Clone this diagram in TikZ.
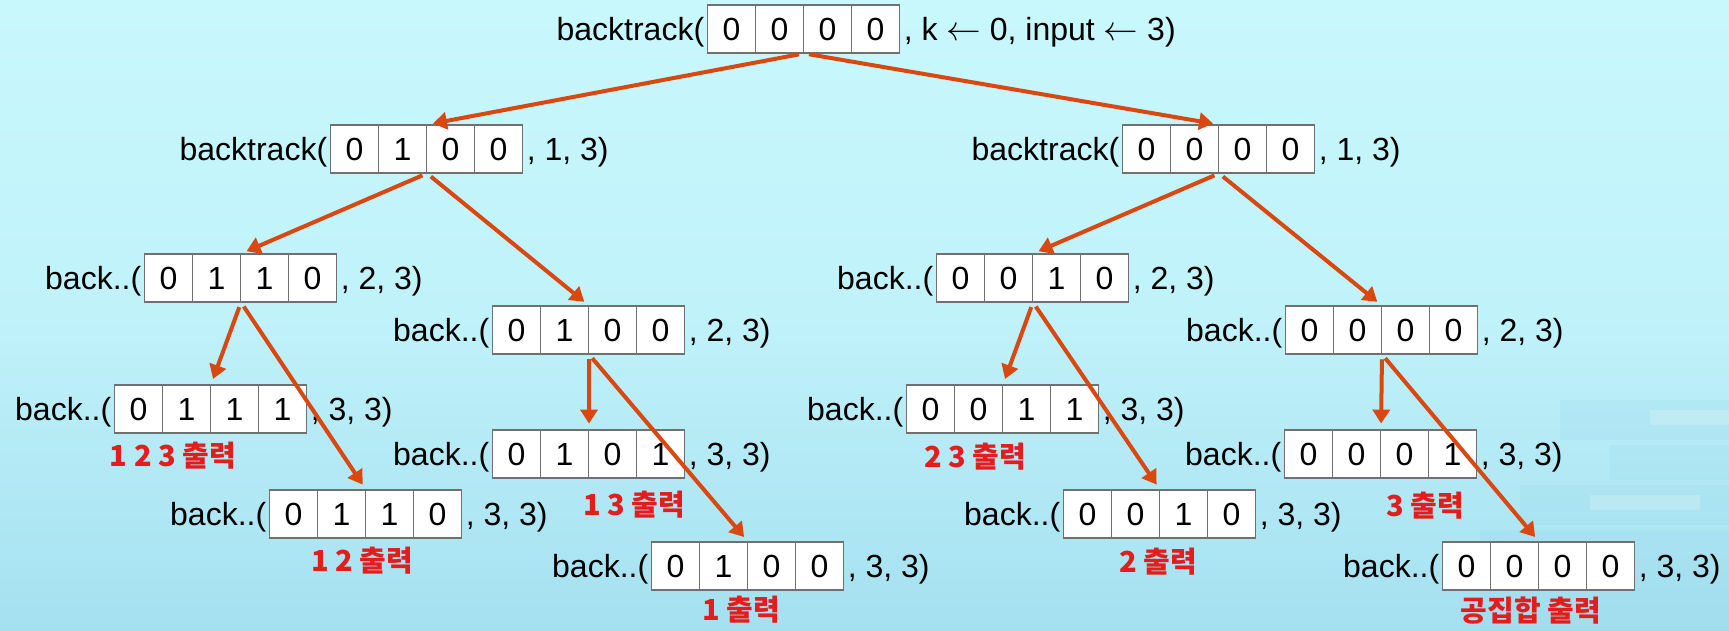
\documentclass[tikz,border=0pt]{standalone}
\usepackage{fontspec}
\setmainfont{Liberation Sans}
\newfontfamily\kr{Noto Sans CJK KR}
\usetikzlibrary{arrows.meta,calc}
\definecolor{bgtop}{RGB}{200,248,252}
\definecolor{bgmid}{RGB}{192,242,250}
\definecolor{bgbot}{RGB}{165,224,240}
\definecolor{arrowred}{RGB}{218,72,16}
\definecolor{labred}{RGB}{228,28,28}
\definecolor{boxgray}{RGB}{112,112,112}
\definecolor{blockc}{RGB}{150,212,232}
\tikzset{
  cellbox/.style={draw=boxgray, fill=white, line width=0.8pt, minimum width=24pt,
    minimum height=24pt, inner sep=0pt, text height=11.5pt, text depth=0pt,
    font=\fontsize{16}{19}\selectfont},
  arrbox/.style={minimum width=96pt, minimum height=24pt, inner sep=0pt},
  calltxt/.style={inner sep=1.5pt, text height=11.5pt, text depth=0pt,
    font=\fontsize{16}{19}\selectfont},
  outlabel/.style={text=labred, font=\kr\bfseries\fontsize{14.5}{17}\selectfont, inner sep=0pt},
  call/.style={draw=arrowred, line width=2pt, -{Triangle[length=7pt,width=8.5pt]},
    shorten <=2.5pt, shorten >=3pt},
}
\newcommand\callbox[5]{%
  \node[arrbox] (#1) at (#2) {};
  \foreach \d [count=\i] in {#4} {\node[cellbox] (#1-\i) at ($(#1.west)+(\i*24pt-12pt,0)$) {\d};}
  \node[calltxt, anchor=east] (#1-pre) at (#1.west) {#3};
  \node[calltxt, anchor=west] (#1-post) at (#1.east) {#5};
}
\begin{document}
\begin{tikzpicture}[x=0.5pt,y=-0.5pt]
\useasboundingbox (0,0) rectangle (1729,631);
\shade[top color=bgtop, bottom color=bgbot, middle color=bgmid] (0,0) rectangle (1729,631);
% faint background blocks
\begin{scope}[opacity=0.18]
  \fill[blockc] (1560,400) rectangle (1729,440);
  \fill[blockc] (1610,445) rectangle (1729,480);
  \fill[blockc] (1520,485) rectangle (1729,525);
  \fill[blockc] (1480,530) rectangle (1729,631);
  \fill[white] (1650,410) rectangle (1729,425);
  \fill[white] (1590,495) rectangle (1700,510);
\end{scope}
% calls
\callbox{n0}{804,29}{backtrack(}{0,0,0,0}{, k $\leftarrow$ 0, input $\leftarrow$ 3)}
\callbox{n1}{427,149}{backtrack(}{0,1,0,0}{, 1, 3)}
\callbox{n2}{1219,149}{backtrack(}{0,0,0,0}{, 1, 3)}
\callbox{n3}{241,278}{back..(}{0,1,1,0}{, 2, 3)}
\callbox{n4}{589,330}{back..(}{0,1,0,0}{, 2, 3)}
\callbox{n5}{1033,278}{back..(}{0,0,1,0}{, 2, 3)}
\callbox{n6}{1382,330}{back..(}{0,0,0,0}{, 2, 3)}
\callbox{n7}{211,409}{back..(}{0,1,1,1}{, 3, 3)}
\callbox{n8}{366,514}{back..(}{0,1,1,0}{, 3, 3)}
\callbox{n9}{589,454}{back..(}{0,1,0,1}{, 3, 3)}
\callbox{n10}{748,566}{back..(}{0,1,0,0}{, 3, 3)}
\callbox{n11}{1003,409}{back..(}{0,0,1,1}{, 3, 3)}
\callbox{n12}{1160,514}{back..(}{0,0,1,0}{, 3, 3)}
\callbox{n13}{1381,454}{back..(}{0,0,0,1}{, 3, 3)}
\callbox{n14}{1539,566}{back..(}{0,0,0,0}{, 3, 3)}
% output labels
\node[outlabel] (l7) at (173,456) {1 2 3 출력};
\node[outlabel] (l8) at (362,561) {1 2 출력};
\node[outlabel] (l9) at (634,505) {1 3 출력};
\node[outlabel] (l10) at (741,610) {1 출력};
\node[outlabel] (l11) at (975,457) {2 3 출력};
\node[outlabel] (l12) at (1158,562) {2 출력};
\node[outlabel] (l13) at (1425,506) {3 출력};
\node[outlabel] (l14) at (1531,611) {공집합 출력};
% connectors
\draw[call] (n0.south) -- (n1.north);
\draw[call] (n0.south) -- (n2.north);
\draw[call] (n1.south) -- (n3.north);
\draw[call] (n1.south) -- (n4.north);
\draw[call] (n2.south) -- (n5.north);
\draw[call] (n2.south) -- (n6.north);
\draw[call] (n3.south) -- (n7.north);
\draw[call] (n3.south) -- (n8.north);
\draw[call] (n4.south) -- (n9.north);
\draw[call] (n4.south) -- (n10.north);
\draw[call] (n5.south) -- (n11.north);
\draw[call] (n5.south) -- (n12.north);
\draw[call] (n6.south) -- (n13.north);
\draw[call] (n6.south) -- (n14.north);
\end{tikzpicture}
\end{document}
